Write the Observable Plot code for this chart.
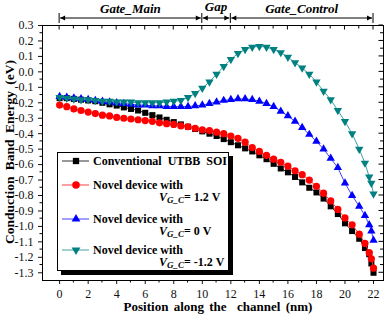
<!DOCTYPE html>
<html><head><meta charset="utf-8">
<script src="https://cdn.jsdelivr.net/npm/d3@7"></script>
<script src="https://cdn.jsdelivr.net/npm/@observablehq/plot@0.6"></script>
<style>body{margin:0;background:#fff}</style>
</head><body><div id="chart"></div>
<script>
const xs = [0,0.5,1,1.5,2,2.5,3,3.5,4,4.5,5,5.5,6,6.5,7,7.5,8,8.5,9,9.5,10,10.5,11,11.5,12,12.5,13,13.5,14,14.5,15,15.5,16,16.5,17,17.5,18,18.5,19,19.5,20,20.5,21,21.4,21.7,21.85,22];
const conventional = [-0.17,-0.17,-0.175,-0.18,-0.185,-0.19,-0.2,-0.21,-0.218,-0.23,-0.24,-0.25,-0.265,-0.28,-0.295,-0.31,-0.325,-0.34,-0.355,-0.37,-0.385,-0.4,-0.415,-0.435,-0.455,-0.475,-0.495,-0.515,-0.54,-0.565,-0.595,-0.625,-0.65,-0.68,-0.715,-0.75,-0.78,-0.82,-0.87,-0.92,-0.98,-1.03,-1.08,-1.14,-1.18,-1.24,-1.3];
const novelP12 = [-0.215,-0.225,-0.24,-0.25,-0.26,-0.27,-0.28,-0.285,-0.295,-0.3,-0.305,-0.31,-0.315,-0.32,-0.33,-0.335,-0.34,-0.35,-0.355,-0.365,-0.375,-0.38,-0.39,-0.4,-0.415,-0.43,-0.455,-0.49,-0.515,-0.54,-0.565,-0.585,-0.61,-0.64,-0.665,-0.7,-0.74,-0.785,-0.835,-0.89,-0.945,-0.99,-1.05,-1.11,-1.17,-1.21,-1.27];
const novel0 = [-0.16,-0.165,-0.17,-0.175,-0.18,-0.185,-0.19,-0.195,-0.2,-0.205,-0.21,-0.215,-0.215,-0.22,-0.22,-0.225,-0.225,-0.225,-0.225,-0.22,-0.215,-0.205,-0.195,-0.185,-0.18,-0.175,-0.175,-0.18,-0.19,-0.205,-0.225,-0.255,-0.285,-0.32,-0.36,-0.405,-0.45,-0.5,-0.56,-0.62,-0.72,-0.8,-0.87,-0.93,-0.99,-1.03,-1.09];
const novelM12 = [-0.165,-0.17,-0.175,-0.18,-0.18,-0.185,-0.19,-0.19,-0.195,-0.195,-0.195,-0.2,-0.2,-0.2,-0.2,-0.195,-0.19,-0.185,-0.165,-0.14,-0.105,-0.065,-0.015,0.035,0.08,0.12,0.145,0.16,0.165,0.16,0.145,0.125,0.095,0.06,0.025,-0.015,-0.065,-0.125,-0.18,-0.25,-0.32,-0.4,-0.5,-0.59,-0.68,-0.72,-0.79];
const seriesNames = ["Conventional", "VGC=1.2", "VGC=0", "VGC=-1.2"];
const xTicks = [0,2,4,6,8,10,12,14,16,18,20,22];
const xMinor = [1,3,5,7,9,11,13,15,17,19,21];
const yTicks = [0.3,0.2,0.1,0,-0.1,-0.2,-0.3,-0.4,-0.5,-0.6,-0.7,-0.8,-0.9,-1.0,-1.1,-1.2,-1.3];
const yMinor = [0.25,0.15,0.05,-0.05,-0.15,-0.25,-0.35,-0.45,-0.55,-0.65,-0.75,-0.85,-0.95,-1.05,-1.15,-1.25];
const regions = [{label:"Gate_Main",x1:0,x2:10},{label:"Gap",x1:10,x2:12},{label:"Gate_Control",x1:12,x2:22}];

const colors = ["#000000","#ff0000","#0000ff","#008080"];
const lineColors = ["#333333","#ff4040","#4040ff","#40a0a0"];
const downTriangle = {draw(context, size){
  const y = -Math.sqrt(size / (3 * Math.sqrt(3)));
  context.moveTo(0, -y * 2);
  context.lineTo(-Math.sqrt(3) * y, y);
  context.lineTo(Math.sqrt(3) * y, y);
  context.closePath();
}};
const symbols = [d3.symbolSquare, d3.symbolCircle, d3.symbolTriangle, downTriangle];
const radii = [3.4, 3.6, 3.1, 3.1];
const allSeries = [conventional, novelP12, novel0, novelM12];
const data = allSeries.map((vals, i) => xs.map((x, j) => ({x, y: vals[j], s: seriesNames[i]})));

// layout: plot area pixels and domains
const W = 387, H = 314, mL = 42, mR = 4, mT = 25, mB = 34;
const xDom = [-1.2, 22.7], yDom = [-1.35, 0.3];
const invX = px => xDom[0] + (px - mL) / (W - mL - mR) * (xDom[1] - xDom[0]);
const invY = py => yDom[1] - (py - mT) / (H - mT - mB) * (yDom[1] - yDom[0]);
// legend box geometry (pixels) mapped into data space
const legendShadow = [{x1: invX(61), x2: invX(233), y1: invY(156), y2: invY(275)}];
const legendBox = [{x1: invX(57.5), x2: invX(228.5), y1: invY(152.5), y2: invY(270.5)}];

const marks = [Plot.frame({stroke:"black"})];
data.forEach((d, i) => {
  marks.push(Plot.line(d, {x:"x", y:"y", stroke: lineColors[i], strokeWidth: 1}));
  marks.push(Plot.dot(d, {x:"x", y:"y", fill: colors[i], stroke: "none", symbol: symbols[i], r: radii[i]}));
});
marks.push(Plot.rect(legendShadow, {x1:"x1", x2:"x2", y1:"y1", y2:"y2", fill:"black"}));
marks.push(Plot.rect(legendBox, {x1:"x1", x2:"x2", y1:"y1", y2:"y2", fill:"white", stroke:"black", strokeWidth:1}));

const plot = Plot.plot({
  width: W, height: H,
  marginLeft: mL, marginRight: mR, marginTop: mT, marginBottom: mB,
  style: {fontFamily: "'Liberation Serif', 'Times New Roman', serif", fontSize: "12px", background: "white", color: "#111"},
  x: {domain: xDom, ticks: xTicks, tickSize: 4, tickPadding: 5, tickFormat: d => String(d), label: null},
  y: {domain: yDom, ticks: yTicks, tickSize: 4, tickPadding: 5, tickFormat: d => d.toFixed(1), label: null},
  marks
});
document.getElementById("chart").appendChild(plot);

const sx = plot.scale("x"), sy = plot.scale("y");
const svg = d3.select(plot);
const X = v => sx.apply(v), Y = v => sy.apply(v);
const pLeft = 42, pRight = 383, pTop = 25, pBottom = 280;
const g = svg.append("g").attr("stroke", "black").attr("stroke-width", 1);
xMinor.forEach(v => g.append("line").attr("x1", X(v)).attr("x2", X(v)).attr("y1", pBottom).attr("y2", pBottom + 2.5));
xTicks.forEach(v => g.append("line").attr("x1", X(v)).attr("x2", X(v)).attr("y1", pTop).attr("y2", pTop + 4.5));
xMinor.forEach(v => g.append("line").attr("x1", X(v)).attr("x2", X(v)).attr("y1", pTop).attr("y2", pTop + 3.5));
yMinor.forEach(v => g.append("line").attr("x1", pLeft).attr("x2", pLeft - 2.5).attr("y1", Y(v)).attr("y2", Y(v)));
yTicks.forEach(v => g.append("line").attr("x1", pRight).attr("x2", pRight - 4.5).attr("y1", Y(v)).attr("y2", Y(v)));
yMinor.forEach(v => g.append("line").attr("x1", pRight).attr("x2", pRight - 3).attr("y1", Y(v)).attr("y2", Y(v)));

svg.append("text").attr("x", 218).attr("y", 311).attr("text-anchor", "middle")
  .attr("font-weight", "bold").attr("font-size", 13).attr("word-spacing", 2).attr("fill", "black")
  .text("Position along the  channel (nm)");
svg.append("text").attr("transform", "translate(14,152) rotate(-90)").attr("text-anchor", "middle")
  .attr("font-weight", "bold").attr("font-size", 13.5).attr("word-spacing", 3).attr("fill", "black")
  .text("Conduction Band Energy (eV)");

const ann = svg.append("g");
const ay = 18;
[0, 10, 12, 22].forEach(v => ann.append("line").attr("x1", X(v)).attr("x2", X(v)).attr("y1", 13).attr("y2", 23).attr("stroke", "black").attr("stroke-width", 1));
regions.forEach(r => {
  const a = X(r.x1) + 1, b = X(r.x2) - 1;
  ann.append("line").attr("x1", a).attr("x2", b).attr("y1", ay).attr("y2", ay).attr("stroke", "black").attr("stroke-width", 1);
  ann.append("path").attr("d", `M${a},${ay}l5,-2.5v5z`).attr("fill", "black");
  ann.append("path").attr("d", `M${b},${ay}l-5,-2.5v5z`).attr("fill", "black");
  ann.append("text").attr("x", X((r.x1 + r.x2) / 2)).attr("y", r.label === "Gap" ? 10.5 : 12.5)
    .attr("text-anchor", "middle").attr("font-weight", "bold").attr("font-style", "italic")
    .attr("font-size", 13).attr("fill", "black").text(r.label);
});

const lg = svg.append("g").attr("text-anchor", "start");
const rows = [161, 185, 219, 250];
const second = [null, "= 1.2 V", "= 0 V", "= -1.2 V"];
rows.forEach((ry, i) => {
  lg.append("line").attr("x1", 62).attr("x2", 89).attr("y1", ry).attr("y2", ry).attr("stroke", lineColors[i]).attr("stroke-width", 1);
  lg.append("path").attr("transform", `translate(76,${ry})`).attr("d", d3.symbol(symbols[i], Math.PI * radii[i] * radii[i] * 1.1)()).attr("fill", colors[i]);
  const t = lg.append("text").attr("x", 93).attr("y", ry + 4).attr("text-anchor", "start").attr("font-weight", "bold").attr("font-size", 12).attr("fill", "black");
  if (i === 0) t.attr("word-spacing", 3).text("Conventional UTBB SOI");
  else {
    t.text("Novel device with");
    const t2 = lg.append("text").attr("x", 159).attr("y", ry + 16).attr("text-anchor", "start").attr("font-weight", "bold").attr("font-size", 12).attr("fill", "black");
    t2.append("tspan").attr("font-style", "italic").text("V");
    t2.append("tspan").attr("font-style", "italic").attr("font-size", 9).attr("dy", 2).text("G_C");
    t2.append("tspan").attr("dy", -2).text(second[i]);
  }
});
</script></body></html>
